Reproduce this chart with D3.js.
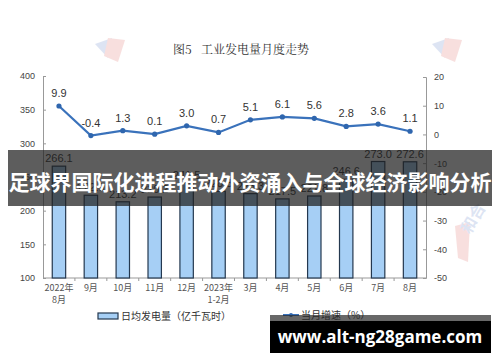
<!DOCTYPE html>
<head>
  <meta charset="utf-8">
  <title>工业发电量月度走势</title>
  <script src="https://d3js.org/d3.v7.min.js"></script>
  <style>
    body { margin: 0; background: #fff; }
    svg { display: block; }
  </style>
</head>
<body>
<svg width="500" height="362"></svg>
<script>

// Months, two lines of tick label each
var months = ["2022-08", "2022-09", "2022-10", "2022-11", "2022-12", "2023-01",
              "2023-03", "2023-04", "2023-05", "2023-06", "2023-07", "2023-08"];
var monthLine1 = ["2022年", "9月", "10月", "11月", "12月", "2023年", "3月", "4月", "5月", "6月", "7月", "8月"];
var monthLine2 = ["8月", "", "", "", "", "1-2月", "", "", "", "", "", ""];

// Daily average generation (亿千瓦时) -- bars
var dailyOutput = [266.1, 222.9, 213.2, 220.2, 241.5, 228.8, 225.3, 217.5, 221.8, 246.6, 273.0, 272.6];
// Growth of the month (%) -- line
var growth = [9.9, -0.4, 1.3, 0.1, 3.0, 0.7, 5.1, 6.1, 5.6, 2.8, 3.6, 1.1];

var leftTicks = [100, 150, 200, 250, 300, 350, 400];
var rightTicks = [-50, -40, -30, -20, -10, 0, 10, 20];

var svg = d3.select("svg");
var sans = "'Liberation Sans', Arial, sans-serif";
var cjk = "'Noto Sans CJK SC', sans-serif";

var x = d3.scaleBand().domain(months).range([43, 426]).paddingInner(0.58).paddingOuter(0.29);
var yL = d3.scaleLinear().domain([100, 400]).range([278, 76]);
var yR = d3.scaleLinear().domain([-50, 20]).range([278, 77]);

// faint watermark logos
var marks = svg.append("g").attr("opacity", 0.18);
marks.append("path").attr("d", "M95,44 L112,38 L108,58 Z").attr("fill", "#4a6fc0");
marks.append("path").attr("d", "M108,38 L125,40 L118,62 L104,56 Z").attr("fill", "#d9534f");
marks.append("path").attr("d", "M432,44 L449,38 L445,58 Z").attr("fill", "#4a6fc0");
marks.append("path").attr("d", "M445,38 L462,40 L455,62 L441,56 Z").attr("fill", "#d9534f");
marks.append("path").attr("d", "M455,226 L470,222 L468,262 L458,258 Z").attr("fill", "#d9534f");
marks.append("text").attr("x", 470).attr("y", 235).attr("transform", "rotate(-60,470,235)")
  .attr("font-family", cjk).attr("font-size", 16).attr("font-weight", "bold").attr("fill", "#4a6fc0").text("和合");

// title
svg.append("text").attr("x", 241).attr("y", 54).attr("text-anchor", "middle")
  .attr("font-family", "'Noto Serif CJK SC', 'Noto Sans CJK SC', serif").attr("font-size", 12)
  .attr("fill", "#333").attr("xml:space", "preserve").text("图5   工业发电量月度走势");

// axes, in grey like the original; plain hyphen for negatives
var axisColor = "#999";
var gl = svg.append("g").attr("transform", "translate(43,0)")
  .call(d3.axisLeft(yL).tickValues(leftTicks).tickSize(-3).tickPadding(8).tickFormat(String));
var gr = svg.append("g").attr("transform", "translate(426,0)")
  .call(d3.axisRight(yR).tickValues(rightTicks).tickSize(-3).tickPadding(8).tickFormat(String));
[gl, gr].forEach(function(g) {
  g.select(".domain").attr("stroke", axisColor);
  g.selectAll(".tick line").attr("stroke", axisColor);
  g.selectAll(".tick text").attr("font-family", sans).attr("font-size", 9).attr("fill", "#444");
});

// x axis line and little separators
svg.append("line").attr("x1", 43).attr("x2", 426).attr("y1", 278).attr("y2", 278).attr("stroke", axisColor);
svg.selectAll(".sep").data(months.slice(1)).enter().append("line")
  .attr("x1", function(d) { return x(d) - x.step() * x.paddingInner() / 2; })
  .attr("x2", function(d) { return x(d) - x.step() * x.paddingInner() / 2; })
  .attr("y1", 278).attr("y2", 281).attr("stroke", axisColor);

// bars
svg.selectAll(".bar").data(dailyOutput).enter().append("rect")
  .attr("x", function(d, i) { return x(months[i]); })
  .attr("width", x.bandwidth())
  .attr("y", function(d) { return yL(d); })
  .attr("height", function(d) { return yL(100) - yL(d); })
  .attr("fill", "#a6cff5").attr("stroke", "#24384f").attr("stroke-width", 1.2);

svg.selectAll(".barLabel").data(dailyOutput).enter().append("text")
  .attr("x", function(d, i) { return x(months[i]) + x.bandwidth() / 2; })
  .attr("y", function(d) { return yL(d) - 4; })
  .attr("text-anchor", "middle").attr("font-family", sans).attr("font-size", 11).attr("fill", "#333")
  .text(function(d) { return d.toFixed(1); });

// line
var line = d3.line()
  .x(function(d, i) { return x(months[i]) + x.bandwidth() / 2; })
  .y(function(d) { return yR(d); });
svg.append("path").datum(growth).attr("d", line)
  .attr("fill", "none").attr("stroke", "#3a72bb").attr("stroke-width", 2.2);
svg.selectAll(".pt").data(growth).enter().append("circle")
  .attr("cx", function(d, i) { return x(months[i]) + x.bandwidth() / 2; })
  .attr("cy", function(d) { return yR(d); })
  .attr("r", 2.6).attr("fill", "#2f66ae");
svg.selectAll(".ptLabel").data(growth).enter().append("text")
  .attr("x", function(d, i) { return x(months[i]) + x.bandwidth() / 2; })
  .attr("y", function(d) { return yR(d) - 9; })
  .attr("text-anchor", "middle").attr("font-family", sans).attr("font-size", 11).attr("fill", "#333")
  .text(function(d) { return d.toFixed(1); });

// month labels
svg.selectAll(".m1").data(monthLine1).enter().append("text")
  .attr("x", function(d, i) { return x(months[i]) + x.bandwidth() / 2; })
  .attr("y", 291).attr("text-anchor", "middle").attr("font-family", cjk).attr("font-size", 9).attr("fill", "#555")
  .text(function(d) { return d; });
svg.selectAll(".m2").data(monthLine2).enter().append("text")
  .attr("x", function(d, i) { return x(months[i]) + x.bandwidth() / 2; })
  .attr("y", 303).attr("text-anchor", "middle").attr("font-family", cjk).attr("font-size", 9).attr("fill", "#555")
  .text(function(d) { return d; });

// legend
svg.append("rect").attr("x", 98).attr("y", 313).attr("width", 20).attr("height", 6)
  .attr("fill", "#a6cff5").attr("stroke", "#24384f").attr("stroke-width", 1.2);
svg.append("text").attr("x", 121).attr("y", 320).attr("font-family", cjk).attr("font-size", 10).attr("fill", "#333")
  .text("日均发电量（亿千瓦时）");
svg.append("line").attr("x1", 283).attr("x2", 299).attr("y1", 315).attr("y2", 315)
  .attr("stroke", "#3a72bb").attr("stroke-width", 2);
svg.append("circle").attr("cx", 291).attr("cy", 315).attr("r", 2).attr("fill", "#2f66ae");
svg.append("text").attr("x", 301).attr("y", 319).attr("font-family", cjk).attr("font-size", 10).attr("fill", "#333")
  .text("当月增速（%）");

// overlay banner with headline
svg.append("rect").attr("x", 8).attr("y", 150).attr("width", 484).attr("height", 56)
  .attr("fill", "rgb(30,30,30)").attr("opacity", 0.72);
svg.append("text").attr("x", 250).attr("y", 190).attr("text-anchor", "middle")
  .attr("font-family", cjk).attr("font-weight", "bold").attr("font-size", 21).attr("fill", "#fff")
  .text("足球界国际化进程推动外资涌入与全球经济影响分析");

// site box
svg.append("rect").attr("x", 270).attr("y", 315).attr("width", 221).attr("height", 6)
  .attr("fill", "rgb(40,40,40)").attr("opacity", 0.7);
svg.append("rect").attr("x", 270).attr("y", 321).attr("width", 221).attr("height", 32).attr("fill", "#000");
svg.append("text").attr("x", 380).attr("y", 343).attr("text-anchor", "middle")
  .attr("font-family", "'Open Sans', sans-serif").attr("font-weight", "bold").attr("font-size", 17).attr("fill", "#fff")
  .text("www.alt-ng28game.com");

</script>
</body>
</html>
